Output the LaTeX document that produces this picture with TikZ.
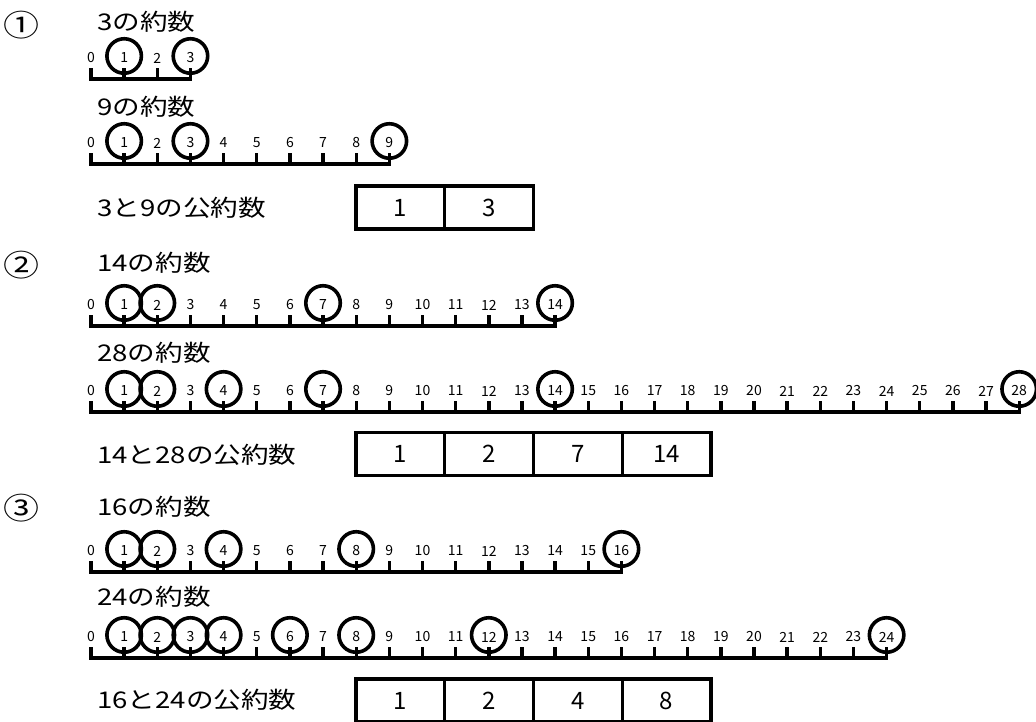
\documentclass[tikz,border=0pt]{standalone}
\usepackage{fontspec}
\setmainfont{Noto Sans CJK JP}
\newcommand{\nline}[4]{%
  % #1 name, #2 last number, #3 line y, #4 circled numbers
  \coordinate (#1-s) at (91,#3);
  \coordinate (#1-e) at (91+#2*33.15,#3);
  \draw[axis] (#1-s) -- (#1-e);
  \foreach \i in {0,...,#2} {
    \coordinate (#1-t\i) at (91+\i*33.15,#3);
    \draw[tick] (#1-t\i) -- ++(0,-11);
    \node[tnum] (#1-n\i) at (91+\i*33.15,#3-21) {\i};
  }
  \foreach \i in {#4} {
    \node[ring] (#1-c\i) at (91+\i*33.15,#3-23) {};
  }
}
\newcommand{\wide}[1]{\scalebox{1.2}[1]{#1}}
\begin{document}
\begin{tikzpicture}[x=1pt,y=-1pt,
  lbl/.style={anchor=west,font=\fontsize{23}{23}\selectfont,inner sep=0},
  qnum/.style={font=\fontsize{30}{30}\selectfont,inner sep=0},
  tnum/.style={font=\fontsize{14}{14}\selectfont,inner sep=0},
  ring/.style={circle,draw,line width=3.6pt,minimum size=34.5pt,inner sep=0},
  axis/.style={line width=3.4pt,line cap=rect},
  tick/.style={line width=3.4pt},
  cell/.style={draw,line width=3.4pt,minimum width=88.75pt,minimum height=43pt,
    font=\fontsize{24}{24}\selectfont,inner sep=0,outer sep=0}]
\useasboundingbox (0,0) rectangle (1036,722);

% Section 1
\node[qnum] (q1) at (21,25) {\wide{①}};
\node[lbl] (l3) at (97,22) {\wide{3の約数}};
\nline{a}{3}{79}{1,3}
\node[lbl] (l9) at (97,107) {\wide{9の約数}};
\nline{b}{9}{164}{1,3,9}
\node[lbl] (k1) at (97,208) {\wide{3と9の公約数}};
\node[cell,anchor=west] (b1a) at (356,207.5) {1};
\node[cell,anchor=west] (b1b) at (b1a.east) {3};

% Section 2
\node[qnum] (q2) at (21,265) {\wide{②}};
\node[lbl] (l14) at (97,263) {\wide{14の約数}};
\nline{c}{14}{326}{1,2,7,14}
\node[lbl] (l28) at (97,353) {\wide{28の約数}};
\nline{d}{28}{412}{1,2,4,7,14,28}
\node[lbl] (k2) at (97,455) {\wide{14と28の公約数}};
\node[cell,anchor=west] (b2a) at (356,454) {1};
\node[cell,anchor=west] (b2b) at (b2a.east) {2};
\node[cell,anchor=west] (b2c) at (b2b.east) {7};
\node[cell,anchor=west] (b2d) at (b2c.east) {14};

% Section 3
\node[qnum] (q3) at (21,508) {\wide{③}};
\node[lbl] (l16) at (97,507) {\wide{16の約数}};
\nline{e}{16}{572}{1,2,4,8,16}
\node[lbl] (l24) at (97,597) {\wide{24の約数}};
\nline{f}{24}{658}{1,2,3,4,6,8,12,24}
\node[lbl] (k3) at (97,700) {\wide{16と24の公約数}};
\node[cell,anchor=west] (b3a) at (356,700.5) {1};
\node[cell,anchor=west] (b3b) at (b3a.east) {2};
\node[cell,anchor=west] (b3c) at (b3b.east) {4};
\node[cell,anchor=west] (b3d) at (b3c.east) {8};
\end{tikzpicture}
\end{document}
